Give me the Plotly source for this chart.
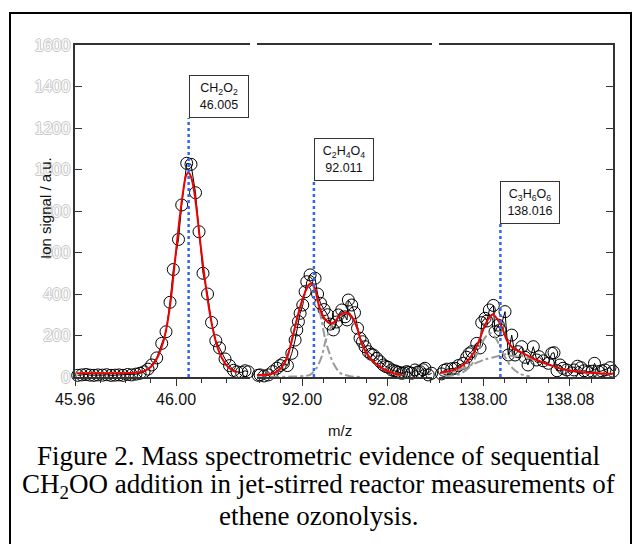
import plotly.graph_objects as go

W, H = 633, 544

# ---------------- data ----------------
# Panel 1 (CH2O2 region)
p1_mz = [45.96107, 45.96265, 45.96436, 45.96594, 45.96752, 45.96911, 45.97089, 45.97255,
         45.97426, 45.97584, 45.97743, 45.97901, 45.98079, 45.98238, 45.98416, 45.98574,
         45.98733, 45.98891, 45.99038, 45.99236, 45.99434, 45.99604, 45.99762, 45.99893,
         46.00099, 46.00226, 46.00424, 46.00594, 46.00772, 46.00911, 46.01069, 46.01248,
         46.01406, 46.01576, 46.01723, 46.01941, 46.02119, 46.02277, 46.02416, 46.02594,
         46.02733, 46.02863]
p1_sig = [8, 10, 12, 9, 8, 10, 9, 11, 8, 9, 10, 8, 12, 10, 14, 18,
          25, 38, 58, 92, 162, 218, 360, 518, 663, 829, 1030, 1025, 888, 700, 500, 400,
          263, 175, 140, 87, 55, 32, 25, 22, 30, 25]
p1_fit_mz = [45.96079, 45.96990, 45.97782, 45.98376, 45.98653, 45.98891, 45.99089, 45.99287,
             45.99485, 45.99644, 45.99802, 45.99960, 46.00119, 46.00277, 46.00396, 46.00495,
             46.00594, 46.00713, 46.00832, 46.00950, 46.01069, 46.01188, 46.01307, 46.01426,
             46.01545, 46.01663, 46.01822, 46.01980, 46.02139, 46.02297, 46.02416]
p1_fit = [18, 18, 18, 20, 25, 38, 60, 100, 165, 250, 380, 560, 740, 890, 970, 985,
          965, 900, 790, 660, 540, 430, 330, 250, 185, 135, 90, 60, 40, 28, 22]

# Panel 2 (C2H4O4 region)
p2_mz = [91.95907, 91.96093, 91.96465, 91.96865, 91.97274, 91.97647, 91.97953, 91.98260,
         91.98633, 91.99042, 91.99349, 91.99507, 91.99656, 91.99814, 92.00065, 92.00279,
         92.00437, 92.00744, 92.01209, 92.01442, 92.01721, 92.02047, 92.02372, 92.02605,
         92.02912, 92.03209, 92.03377, 92.03693, 92.04000, 92.04186, 92.04307, 92.04623,
         92.04884, 92.05163, 92.05395, 92.05628, 92.05860, 92.06167, 92.06419, 92.06633,
         92.06949, 92.07256, 92.07563, 92.07814, 92.08028, 92.08344, 92.08605, 92.08809,
         92.09023, 92.09274, 92.09488, 92.09740, 92.09953, 92.10205, 92.10512, 92.10791,
         92.10977, 92.11256, 92.11442, 92.11749, 92.12065]
p2_sig = [8, 10, 5, 10, 26, 42, 55, 66, 55, 114, 178, 227, 267, 307, 347, 411,
          459, 492, 476, 400, 355, 325, 300, 255, 227, 265, 299, 323, 290, 275, 371, 347,
          310, 235, 187, 170, 146, 122, 110, 106, 90, 74, 58, 50, 47, 34, 30, 26,
          22, 18, 20, 26, 22, 18, 34, 24, 26, 35, 42, 10, 18]
p2_fit_mz = [91.95786, 91.97023, 91.97647, 91.98260, 91.98726, 91.99191, 91.99656, 92.00121,
             92.00586, 92.00837, 92.01209, 92.01516, 92.01981, 92.02605, 92.03070, 92.03535,
             92.04158, 92.04623, 92.05088, 92.05553, 92.06019, 92.06633, 92.07256, 92.07879,
             92.08493, 92.09274]
p2_fit = [10, 13, 26, 58, 114, 210, 307, 387, 443, 451, 427, 355, 291, 258, 267, 299,
          310, 291, 243, 162, 114, 74, 50, 30, 18, 10]
p2_c1_mz = [91.95786, 91.97647, 91.98260, 91.98726, 91.99191, 91.99656, 92.00121, 92.00586,
            92.00837, 92.01209, 92.01516, 92.01833, 92.02140, 92.02447, 92.02912, 92.03535,
            92.04465, 92.05395]
p2_c1 = [5, 22, 55, 110, 205, 300, 380, 437, 445, 415, 350, 268, 185, 130, 66, 20, 4, 0]
p2_c2_mz = [91.97023, 91.98884, 92.00279, 92.00744, 92.01367, 92.01833, 92.02140, 92.02605,
            92.03070, 92.03535, 92.04158, 92.04623, 92.05088, 92.05553, 92.06019, 92.06633,
            92.07256, 92.07879, 92.08493, 92.09274]
p2_c2 = [0, 2, 5, 10, 45, 100, 165, 232, 270, 296, 308, 290, 242, 160, 112, 72, 48, 28, 16, 8]

# Panel 3 (C3H6O6 region)
p3_mz = [137.96182, 137.96412, 137.96688, 137.97120, 137.97424, 137.97728, 137.98188, 137.98500,
         137.98712, 137.98960, 137.99420, 137.99724, 137.99880, 138.00184, 138.00368, 138.00580,
         138.00948, 138.01104, 138.01408, 138.01564, 138.02024, 138.02328, 138.02640, 138.02944,
         138.03220, 138.03560, 138.03864, 138.04140, 138.04627, 138.04940, 138.05152, 138.05547,
         138.06007, 138.06320, 138.06532, 138.06808, 138.07084, 138.07360, 138.07700, 138.08160,
         138.08372, 138.08694, 138.09016, 138.09292, 138.09660, 138.10028, 138.10258, 138.10607,
         138.10920, 138.11224, 138.11684, 138.11960]
p3_sig = [15, 32, 38, 40, 42, 55, 66, 95, 112, 122, 162, 140, 262, 283, 270, 323,
          345, 218, 250, 227, 315, 106, 202, 106, 122, 146, 95, 58, 146, 82, 98, 78,
          66, 114, 117, 30, 58, 42, 34, 20, 34, 52, 45, 30, 25, 28, 66, 26,
          29, 34, 45, 28]
p3_fit_mz = [137.96044, 137.97268, 137.98188, 137.99108, 137.99724, 138.00184, 138.00644,
             138.00892, 138.01260, 138.01720, 138.02180, 138.02788, 138.03707, 138.04940,
             138.06164, 138.07387, 138.08924, 138.10460, 138.11932]
p3_fit = [21, 34, 58, 114, 187, 250, 291, 302, 283, 243, 178, 138, 114, 82, 58, 37, 24, 18, 14]
p3_c1_mz = [137.96504, 137.97884, 137.98804, 137.99540, 138.00184, 138.00644, 138.01104,
            138.01564, 138.02024, 138.02668, 138.03404, 138.04324]
p3_c1 = [3, 15, 50, 120, 190, 212, 192, 148, 95, 45, 15, 3]
p3_c2_mz = [137.96044, 137.97424, 137.98804, 138.00184, 138.01380, 138.02116, 138.02760,
            138.03680, 138.04968, 138.06164, 138.07360, 138.08924, 138.10488, 138.11960]
p3_c2 = [18, 28, 55, 85, 100, 110, 100, 100, 78, 57, 37, 24, 18, 14]

# Assigned peaks: formula label, exact mass, top of marker line
peak_labels = ["CH<sub>2</sub>O<sub>2</sub>", "C<sub>2</sub>H<sub>4</sub>O<sub>4</sub>",
               "C<sub>3</sub>H<sub>6</sub>O<sub>6</sub>"]
peak_mass = [46.005, 92.011, 138.016]
peak_mass_text = ["46.005", "92.011", "138.016"]
peak_line_top = [1248, 945, 737]

x_ranges = [[45.96, 46.0293], [91.958, 92.121], [137.9595, 138.1196]]
x_tick0 = [45.96, 92.00, 138.00]
x_dtick = [0.04, 0.08, 0.08]
x_minor = [0.01, 0.02, 0.02]
y_range = [0, 1600]
y_dtick = 200

caption_lines = ["Figure 2. Mass spectrometric evidence of sequential",
                 "CH<sub>2</sub>OO addition in jet-stirred reactor measurements of",
                 "ethene ozonolysis."]

# ---------------- layout helpers ----------------
def px_x(p):
    return p / W

def px_y(p):
    return 1 - p / H

x_domains = [[px_x(75), px_x(250)], [px_x(257), px_x(432)], [px_x(439), px_x(613)]]
y_domain = [px_y(377), px_y(45)]

AX = '#333333'
sans = 'Liberation Sans, Arial, sans-serif'

fig = go.Figure()

panels = [
    (p1_mz, p1_sig, p1_fit_mz, p1_fit, []),
    (p2_mz, p2_sig, p2_fit_mz, p2_fit, [(p2_c1_mz, p2_c1), (p2_c2_mz, p2_c2)]),
    (p3_mz, p3_sig, p3_fit_mz, p3_fit, [(p3_c1_mz, p3_c1), (p3_c2_mz, p3_c2)]),
]

for i, (mz, sig, fmz, fit, comps) in enumerate(panels):
    xa = 'x' if i == 0 else f'x{i+1}'
    ya = 'y' if i == 0 else f'y{i+1}'
    fig.add_trace(go.Scatter(x=mz, y=sig, xaxis=xa, yaxis=ya, mode='lines+markers',
                             line=dict(color='black', width=1),
                             marker=dict(symbol='circle-open', size=12, color='black',
                                         line=dict(width=1)),
                             cliponaxis=False, showlegend=False, hoverinfo='skip'))
    for cmz, cv in comps:
        fig.add_trace(go.Scatter(x=cmz, y=cv, xaxis=xa, yaxis=ya, mode='lines',
                                 line=dict(color='#9a9a9a', width=2, dash='dashdot',
                                           shape='spline', smoothing=0.8),
                                 showlegend=False, hoverinfo='skip'))
    fig.add_trace(go.Scatter(x=fmz, y=fit, xaxis=xa, yaxis=ya, mode='lines',
                             line=dict(color='#ee0000', width=2, shape='spline', smoothing=0.8),
                             showlegend=False, hoverinfo='skip'))
    fig.add_trace(go.Scatter(x=[peak_mass[i], peak_mass[i]], y=[0, peak_line_top[i]],
                             xaxis=xa, yaxis=ya, mode='lines',
                             line=dict(color='#3366ee', width=2.5, dash='dot'),
                             showlegend=False, hoverinfo='skip'))

layout = dict(
    width=W, height=H, autosize=False,
    margin=dict(l=0, r=0, t=0, b=0, autoexpand=False),
    paper_bgcolor='white', plot_bgcolor='rgba(0,0,0,0)',
    showlegend=False,
)

for i in range(3):
    xk = 'xaxis' if i == 0 else f'xaxis{i+1}'
    ya = 'y' if i == 0 else f'y{i+1}'
    layout[xk] = dict(
        domain=x_domains[i], range=x_ranges[i], anchor=ya, automargin=False,
        showline=True, linecolor=AX, linewidth=1.5, mirror=True,
        ticks='outside', ticklen=7, tickwidth=1.2, tickcolor=AX,
        tick0=x_tick0[i], dtick=x_dtick[i], tickformat='.2f',
        tickfont=dict(family=sans, size=16, color='#111111'),
        minor=dict(ticks='outside', ticklen=4, tickwidth=1.2, tickcolor=AX,
                   dtick=x_minor[i], tick0=x_tick0[i], showgrid=False),
        showgrid=False, zeroline=False, fixedrange=True,
    )

layout['yaxis'] = dict(
    domain=y_domain, range=y_range, anchor='x', side='left', automargin=False,
    showline=True, linecolor=AX, linewidth=1.5, mirror=False,
    ticks='inside', ticklen=7, tickwidth=1.2, tickcolor=AX, dtick=y_dtick,
    tickfont=dict(family=sans, size=16, color='#fbfbfb',
                  shadow='1px 0 0 #c8c8c8, -1px 0 0 #c8c8c8, 0 1px 0 #c8c8c8, 0 -1px 0 #c8c8c8'),
    showgrid=False, zeroline=False, fixedrange=True,
)
layout['yaxis2'] = dict(domain=y_domain, range=y_range, anchor='x2', visible=False,
                        automargin=False)
layout['yaxis3'] = dict(
    domain=y_domain, range=y_range, anchor='x3', side='right', automargin=False,
    showline=True, linecolor=AX, linewidth=1.5, mirror=False,
    ticks='inside', ticklen=7, tickwidth=1.2, tickcolor=AX, dtick=y_dtick,
    showticklabels=False, showgrid=False, zeroline=False, fixedrange=True,
)

annotations = []
for i in range(3):
    xa = 'x' if i == 0 else f'x{i+1}'
    ya = 'y' if i == 0 else f'y{i+1}'
    annotations.append(dict(
        xref=xa, yref=ya, x=peak_mass[i], y=peak_line_top[i],
        xanchor='left', yanchor='bottom', showarrow=False,
        text=f"{peak_labels[i]}<br>{peak_mass_text[i]}",
        font=dict(family=sans, size=12.5, color='#111111'),
        bordercolor=AX, borderwidth=1, borderpad=1, bgcolor='white',
        width=56, height=39, align='center', valign='middle'))

annotations.append(dict(xref='paper', yref='paper', x=px_x(340), y=px_y(430),
                        xanchor='center', yanchor='middle', showarrow=False,
                        text='m/z', font=dict(family=sans, size=15, color='#111111')))
annotations.append(dict(xref='paper', yref='paper', x=px_x(45), y=px_y(208),
                        xanchor='center', yanchor='middle', showarrow=False, textangle=-90,
                        text='Ion signal / a.u.', font=dict(family=sans, size=15, color='#111111')))

cap_base = [464.5, 494.5, 525]
cap_size = 27
for line, b in zip(caption_lines, cap_base):
    annotations.append(dict(xref='paper', yref='paper', x=px_x(318), y=px_y(b - 0.32 * cap_size),
                            xanchor='center', yanchor='middle', showarrow=False, text=line,
                            font=dict(family='Liberation Serif, Times New Roman, serif',
                                      size=cap_size, color='black')))

layout['annotations'] = annotations
layout['shapes'] = [dict(type='rect', xref='paper', yref='paper',
                         x0=px_x(10), x1=px_x(631), y0=-0.05, y1=px_y(13),
                         line=dict(color='black', width=2), fillcolor='rgba(0,0,0,0)')]

fig.update_layout(**layout)
fig.write_html("out.html")
